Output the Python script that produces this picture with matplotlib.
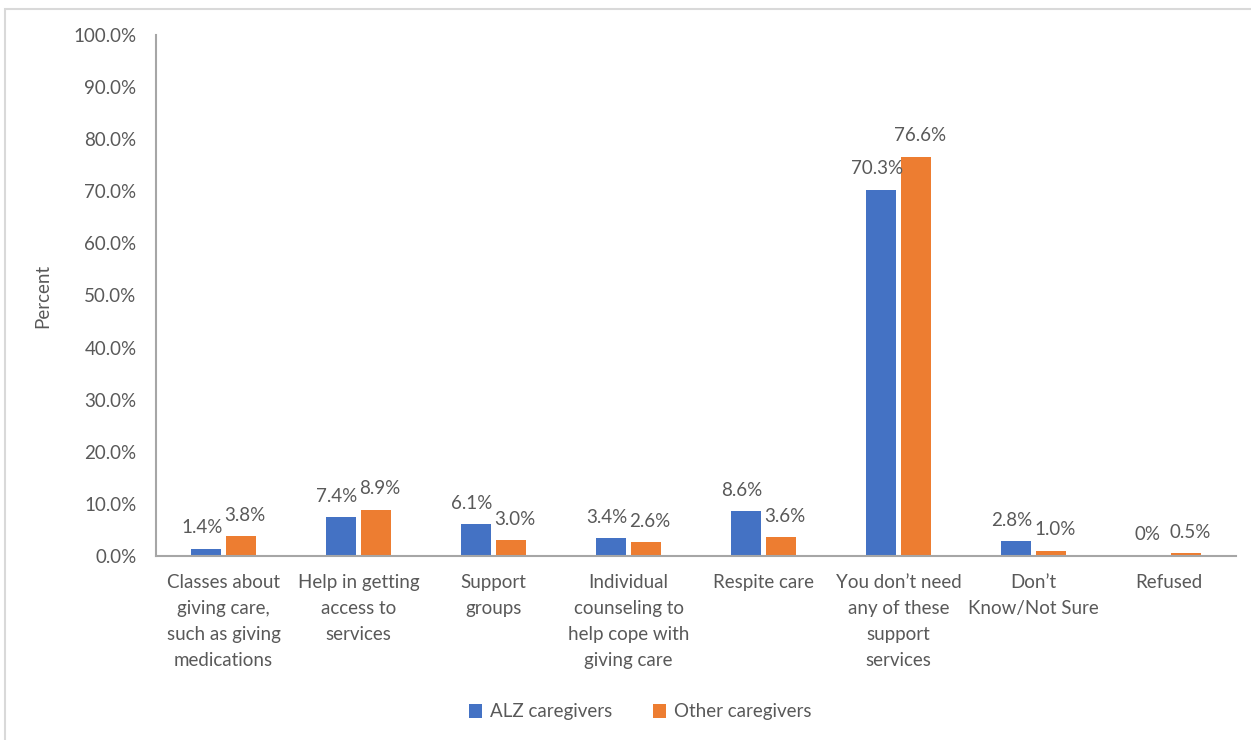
import matplotlib.pyplot as plt
import numpy as np
from matplotlib.patches import Rectangle

categories = [
    "Classes about\ngiving care,\nsuch as giving\nmedications",
    "Help in getting\naccess to\nservices",
    "Support\ngroups",
    "Individual\ncounseling to\nhelp cope with\ngiving care",
    "Respite care",
    "You don\u2019t need\nany of these\nsupport\nservices",
    "Don\u2019t\nKnow/Not Sure",
    "Refused",
]
alz = [1.4, 7.4, 6.1, 3.4, 8.6, 70.3, 2.8, 0.0]
other = [3.8, 8.9, 3.0, 2.6, 3.6, 76.6, 1.0, 0.5]
alz_labels = ["1.4%", "7.4%", "6.1%", "3.4%", "8.6%", "70.3%", "2.8%", "0%"]
other_labels = ["3.8%", "8.9%", "3.0%", "2.6%", "3.6%", "76.6%", "1.0%", "0.5%"]

blue = "#4472C4"
orange = "#ED7D31"
text_gray = "#595959"
fs = 13.5

plt.rcParams['font.family'] = ['Lato', 'DejaVu Sans']

fig = plt.figure(figsize=(12.51, 7.40), dpi=100)
ax = fig.add_axes([156 / 1251, 1 - 556 / 740, 1080 / 1251, 521 / 740])

# light frame around the whole chart area
fig.patches.append(Rectangle((5 / 1251, -0.05), 1.1, 1 - 9 / 740 + 0.05,
                             transform=fig.transFigure, fill=False,
                             edgecolor="#D9D9D9", linewidth=1.5))

x = np.arange(len(categories))
w = 0.225
gap = 0.03
b1 = ax.bar(x - w / 2 - gap / 2, alz, w, color=blue, label="ALZ caregivers")
b2 = ax.bar(x + w / 2 + gap / 2, other, w, color=orange, label="Other caregivers")

# value labels, nudged apart a little so neighbours don't collide
for bars, labels, dx in ((b1, alz_labels, -3), (b2, other_labels, 3)):
    for rect, lab in zip(bars, labels):
        ax.annotate(lab, (rect.get_x() + rect.get_width() / 2, rect.get_height()),
                    xytext=(dx, 9), textcoords="offset points",
                    ha="center", va="bottom", fontsize=fs, color=text_gray)

ax.set_xlim(-0.5, len(categories) - 0.5)
ax.set_ylim(0, 100)
ax.set_yticks(np.arange(0, 101, 10))
ax.set_yticklabels([f"{v:.1f}%" for v in range(0, 101, 10)])
ax.set_xticks(x)
ax.set_xticklabels(categories, linespacing=1.65)
ax.tick_params(axis="both", length=0, labelsize=fs, labelcolor=text_gray)
ax.tick_params(axis="x", pad=13)
ax.tick_params(axis="y", pad=14)

for side in ("top", "right"):
    ax.spines[side].set_visible(False)
ax.spines["left"].set_color("#A6A6A6")
ax.spines["bottom"].set_color("#A6A6A6")
ax.spines["left"].set_linewidth(1.5)
ax.spines["bottom"].set_linewidth(1.5)

ax.set_ylabel("Percent", fontsize=fs, color=text_gray, labelpad=16)

fig.legend(handles=[b1, b2], loc="center", bbox_to_anchor=(640 / 1251, 1 - 712 / 740),
           ncol=2, frameon=False, fontsize=fs, labelcolor=text_gray,
           handlelength=0.7, handleheight=0.7, handletextpad=0.4, columnspacing=2.2)

fig.savefig("out.png", dpi=100)
